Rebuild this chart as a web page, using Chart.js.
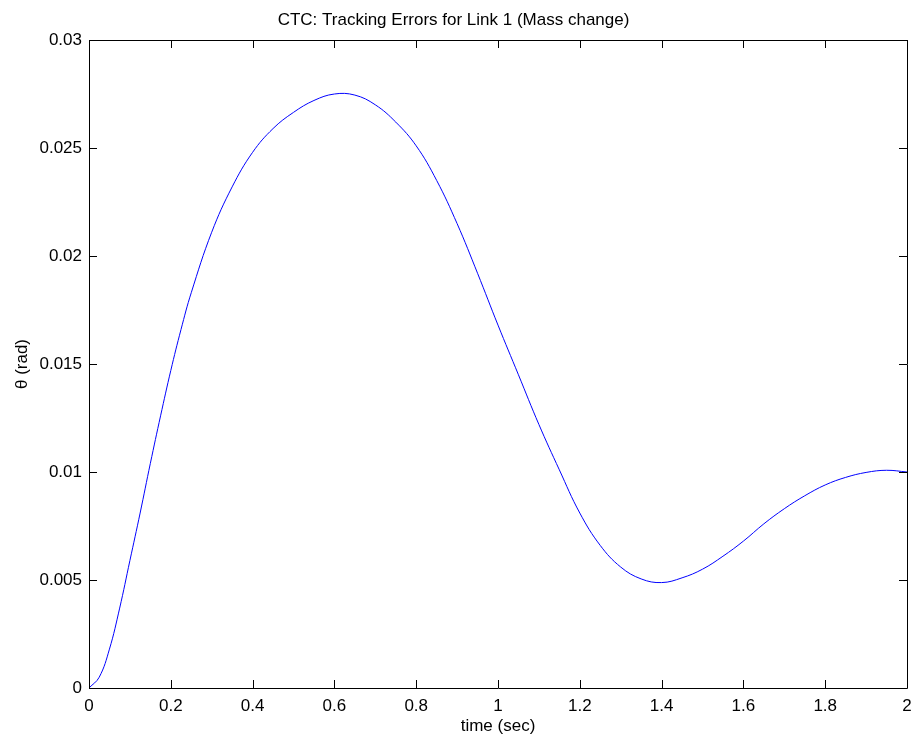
<!DOCTYPE html>
<html>
<head>
<meta charset="utf-8">
<script src="https://cdn.jsdelivr.net/npm/chart.js@4"></script>
<style>
  html, body { margin: 0; padding: 0; background: #fff; }
  canvas { display: block; }
</style>
</head>
<body>
<canvas id="errChart" width="911" height="738"></canvas>
<script>
// values
var timeSec = [0, 0.025, 0.05, 0.075, 0.1, 0.125, 0.15, 0.175, 0.2, 0.225, 0.25, 0.3, 0.35, 0.4, 0.45, 0.5, 0.55, 0.6, 0.65, 0.7, 0.75, 0.8, 0.85, 0.9, 0.95, 1.0, 1.05, 1.1, 1.15, 1.2, 1.25, 1.3, 1.35, 1.4, 1.45, 1.5, 1.55, 1.6, 1.65, 1.7, 1.75, 1.8, 1.85, 1.9, 1.95, 2.0];
var theta = [0, 0.0005, 0.0018, 0.0037, 0.0059, 0.0081, 0.0104, 0.0126, 0.0147, 0.0166, 0.0183, 0.0211, 0.0232, 0.0248, 0.0259, 0.02665, 0.0272, 0.0275, 0.02745, 0.0270, 0.0262, 0.0251, 0.0235, 0.0215, 0.0192, 0.0168, 0.0145, 0.0122, 0.0101, 0.0081, 0.0066, 0.0056, 0.00505, 0.00488, 0.0051, 0.0055, 0.0061, 0.0068, 0.0076, 0.0083, 0.0089, 0.0094, 0.00975, 0.00998, 0.01008, 0.0100];

var xTicks = [0, 0.2, 0.4, 0.6, 0.8, 1, 1.2, 1.4, 1.6, 1.8, 2];
var yTicks = [0, 0.005, 0.01, 0.015, 0.02, 0.025, 0.03];

var FONT = 'Arial, "Liberation Sans", Helvetica, sans-serif';

var points = timeSec.map(function (t, i) { return { x: t, y: theta[i] }; });

function fmt(v) {
    return String(Number(v.toFixed(4)));
}

// box around the axes + inward tick marks on all four sides
var matlabBox = {
    id: "matlabBox",
    afterDraw: function (chart) {
        var ctx = chart.ctx;
        var a = chart.chartArea;
        var xs = chart.scales.x;
        var ys = chart.scales.y;
        var len = 8;
        ctx.save();
        ctx.strokeStyle = "#000";
        ctx.lineWidth = 1;
        ctx.beginPath();
        ctx.rect(Math.round(a.left) + 0.5, Math.round(a.top) + 0.5,
            Math.round(a.right - a.left), Math.round(a.bottom - a.top));
        ctx.stroke();
        ctx.beginPath();
        xs.ticks.forEach(function (tk, i) {
            var px = Math.round(xs.getPixelForTick(i)) + 0.5;
            ctx.moveTo(px, a.bottom);
            ctx.lineTo(px, a.bottom - len);
            ctx.moveTo(px, a.top);
            ctx.lineTo(px, a.top + len);
        });
        ys.ticks.forEach(function (tk, i) {
            var py = Math.round(ys.getPixelForTick(i)) + 0.5;
            ctx.moveTo(a.left, py);
            ctx.lineTo(a.left + len, py);
            ctx.moveTo(a.right, py);
            ctx.lineTo(a.right - len, py);
        });
        ctx.stroke();
        ctx.restore();
    }
};

var ctx = document.getElementById("errChart").getContext("2d");
var myChart = new Chart(ctx, {
    type: "line",
    data: {
        datasets: [
            {
                data: points,
                borderColor: "#0000ff",
                borderWidth: 1,
                pointRadius: 0,
                fill: false,
                tension: 0.4,
            },
        ],
    },
    options: {
        responsive: false,
        animation: false,
        layout: { padding: { top: 0, right: 4, bottom: 0, left: 0 } },
        plugins: {
            legend: { display: false },
            tooltip: { enabled: false },
            title: {
                display: true,
                text: "CTC: Tracking Errors for Link 1 (Mass change)",
                color: "#000",
                font: { family: FONT, size: 17, weight: "normal" },
                padding: { top: 10, bottom: 9.6 },
            },
        },
        scales: {
            x: {
                type: "linear",
                min: 0,
                max: 2,
                afterBuildTicks: function (s) {
                    s.ticks = xTicks.map(function (v) { return { value: v }; });
                },
                afterFit: function (s) {
                    s.height = 50;
                    s.paddingLeft = 0;
                    s.paddingRight = 0;
                },
                grid: { display: false, drawTicks: false },
                border: { display: false },
                ticks: {
                    color: "#000",
                    padding: 8,
                    maxRotation: 0,
                    autoSkip: false,
                    font: { family: FONT, size: 17 },
                    callback: function (v) { return fmt(v); },
                },
                title: {
                    display: true,
                    text: "time (sec)",
                    color: "#000",
                    font: { family: FONT, size: 17 },
                    padding: { top: 0, bottom: 1 },
                },
            },
            y: {
                min: 0,
                max: 0.03,
                afterBuildTicks: function (s) {
                    s.ticks = yTicks.map(function (v) { return { value: v }; });
                },
                afterFit: function (s) {
                    s.width = 89;
                    s.paddingTop = 0;
                    s.paddingBottom = 0;
                },
                grid: { display: false, drawTicks: false },
                border: { display: false },
                ticks: {
                    color: "#000",
                    padding: 7,
                    autoSkip: false,
                    font: { family: FONT, size: 17 },
                    callback: function (v) { return fmt(v); },
                },
                title: {
                    display: true,
                    text: "θ (rad)",
                    color: "#000",
                    font: { family: FONT, size: 17 },
                    padding: { top: 12, bottom: 0 },
                },
            },
        },
    },
    plugins: [matlabBox],
});
</script>
</body>
</html>
